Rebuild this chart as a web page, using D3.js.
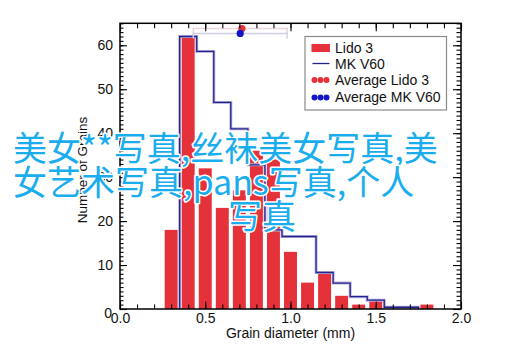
<!DOCTYPE html>
<html><head><meta charset="utf-8">
<script src="https://cdn.jsdelivr.net/npm/d3@7"></script>
<style>body{margin:0;background:#fff} svg{display:block}</style>
</head><body><svg id="c" width="515" height="359"></svg>
<script>
// ---- data ----
const binCenters = [0.3,0.4,0.5,0.6,0.7,0.8,0.9,1.0,1.1,1.2,1.3,1.4,1.5,1.6,1.7,1.8];
const lido3 = [18,62,32,23,27,36,34,13,6,8,3,1,2,0,0,1];
const mkEdges = [0.35,0.45,0.55,0.65,0.75,0.85,0.95,1.05,1.15,1.25,1.35,1.45,1.55,1.65,1.75];
const mkV60 = [62,58.6,47,41,32.8,18,16.5,16.5,8.3,5.9,2.8,2.0,0.4,0.4,0];
const avgNames = ["Average Lido 3","Average MK V60"];
const avgMean = [0.715,0.705];
const avgLow = [0.43,0.43];
const avgHigh = [0.98,0.98];
const avgLevel = [63.8,62.7];
const xTicks = [0,0.5,1.0,1.5,2.0];
const xTickLabels = ["0.0","0.5","1.0","1.5","2.0"];
const yTicks = [0,10,20,30,40,50,60];
const legendLabels = ["Lido 3","MK V60","Average Lido 3","Average MK V60"];
const overlayLines = ["美女**写真,丝袜美女写真,美","女艺术写真,pans写真,个人","写真"];

// ---- layout ----
const L=120, R=461, T=23.3, B=309;
const svg = d3.select("#c");
const x = d3.scaleLinear().domain([0,2]).range([L,R]);
const y = d3.scaleLinear().domain([0,65]).range([B,T]);
const font = "'Liberation Sans', Arial, Helvetica, sans-serif";
const RED = "#e5323a", BLUE = "#23238f";

// bars
const bw = 0.076;
svg.append("g").selectAll("rect").data(binCenters.map((c,i)=>({c,v:lido3[i]})).filter(d=>d.v>0))
  .join("rect")
  .attr("x", d=>x(d.c-bw/2)).attr("width", d=>x(d.c+bw/2)-x(d.c-bw/2))
  .attr("y", d=>y(d.v)).attr("height", d=>y(0)-y(d.v))
  .attr("fill", RED);

// step line
const stepPts = [{x:mkEdges[0],v:0}].concat(mkEdges.map((e,i)=>({x:e,v:mkV60[i]})));
const line = d3.line().x(d=>x(d.x)).y(d=>y(d.v)).curve(d3.curveStepAfter);
svg.append("path").attr("d", line(stepPts)).attr("fill","none")
  .attr("stroke","#b9b4dc").attr("stroke-width",3);
svg.append("path").attr("d", line(stepPts)).attr("fill","none")
  .attr("stroke",BLUE).attr("stroke-width",1.3);

// average markers with error bars
const ebCols = ["#ecd3dc","#cdd0e4"];
const dotCols = [RED,"#1515c8"];
avgMean.forEach((m,i)=>{
  const g = svg.append("g");
  const yy = y(avgLevel[i]);
  g.append("line").attr("x1",x(avgLow[i])).attr("x2",x(avgHigh[i])).attr("y1",yy).attr("y2",yy)
    .attr("stroke",ebCols[i]).attr("stroke-width",1.5);
  [avgLow[i],avgHigh[i]].forEach(v=>g.append("line").attr("x1",x(v)).attr("x2",x(v))
    .attr("y1",yy-1).attr("y2",yy+5).attr("stroke",ebCols[i]).attr("stroke-width",1.5));
});
avgMean.forEach((m,i)=>{
  svg.append("circle").attr("cx",x(m)).attr("cy",y(avgLevel[i])).attr("r",3.6).attr("fill",dotCols[i]);
});

// axes
function styleAxis(g){ g.select(".domain").remove(); g.selectAll("line").attr("stroke","#000").attr("stroke-width",1.1);
  g.selectAll("text").attr("font-family",font).attr("font-size",14).attr("fill","#111"); }
const yMinor = d3.range(0,66,1);
const xMinor = d3.range(0,2.01,0.1);
svg.append("g").attr("transform",`translate(${L},0)`).call(d3.axisLeft(y).tickValues(yMinor).tickSize(-3.5).tickFormat("")).call(styleAxis);
const yl = svg.append("g").attr("transform",`translate(${L},0)`).call(d3.axisLeft(y).tickValues(yTicks).tickSize(-7).tickPadding(7)).call(styleAxis);
yl.selectAll(".tick").filter(d=>d===0).select("text").attr("dy","0.62em").attr("x",-8);
svg.append("g").attr("transform",`translate(${R},0)`).call(d3.axisRight(y).tickValues(yMinor).tickSize(-4.5).tickFormat("")).call(styleAxis);
svg.append("g").attr("transform",`translate(${R},0)`).call(d3.axisRight(y).tickValues(yTicks).tickSize(-8).tickFormat("")).call(styleAxis);
svg.append("g").attr("transform",`translate(0,${B})`).call(d3.axisBottom(x).tickValues(xMinor).tickSize(-4.5).tickFormat("")).call(styleAxis);
svg.append("g").attr("transform",`translate(0,${B})`).call(d3.axisBottom(x).tickValues(xTicks).tickSize(-7.5).tickPadding(4)
  .tickFormat((d,i)=>xTickLabels[i])).call(styleAxis);
svg.append("g").attr("transform",`translate(0,${T})`).call(d3.axisTop(x).tickValues(xMinor).tickSize(-5).tickFormat("")).call(styleAxis);
svg.append("g").attr("transform",`translate(0,${T})`).call(d3.axisTop(x).tickValues(xTicks).tickSize(-8).tickFormat("")).call(styleAxis);
svg.append("rect").attr("x",L).attr("y",T).attr("width",R-L).attr("height",B-T)
  .attr("fill","none").attr("stroke","#000").attr("stroke-width",1.5);

// axis titles
svg.append("text").attr("x",(L+R)/2).attr("y",338).attr("text-anchor","middle")
  .attr("font-family",font).attr("font-size",14).attr("fill","#111").text("Grain diameter (mm)");
svg.append("text").attr("transform",`translate(87,170) rotate(-90)`).attr("text-anchor","middle")
  .attr("font-family",font).attr("font-size",13.5).attr("fill","#111").text("Number of Grains");

// legend
const lg = svg.append("g");
lg.append("rect").attr("x",305).attr("y",36.5).attr("width",141.5).attr("height",73.5)
  .attr("fill","#fff").attr("stroke","#8a8a8a").attr("stroke-width",1.2);
const lBase = [53.3,69,85,101.5];
legendLabels.forEach((t,i)=>{
  lg.append("text").attr("x",335).attr("y",lBase[i]).attr("font-family",font).attr("font-size",14)
    .attr("fill","#111").text(t);
});
lg.append("rect").attr("x",311.5).attr("y",44).attr("width",18.5).attr("height",8).attr("fill",RED);
lg.append("line").attr("x1",312.5).attr("x2",329.5).attr("y1",63.5).attr("y2",63.5).attr("stroke",BLUE).attr("stroke-width",1.3);
[0,1].forEach(k=>{
  [314.5,320.5,326.5].forEach(cx=>lg.append("circle").attr("cx",cx).attr("cy",k?97.5:80).attr("r",3).attr("fill",dotCols[k]));
});

// overlay text
const ov = svg.append("g").attr("font-family","'Noto Sans CJK SC', sans-serif").attr("font-size",34)
  .attr("fill","#1aadee").attr("stroke","#fff").attr("stroke-width",3).attr("paint-order","stroke")
  .attr("stroke-linejoin","round");
const ovX = [13,13,228], ovY = [161,195,229];
overlayLines.forEach((t,i)=>ov.append("text").attr("x",ovX[i]).attr("y",ovY[i]).text(t));
</script></body></html>
